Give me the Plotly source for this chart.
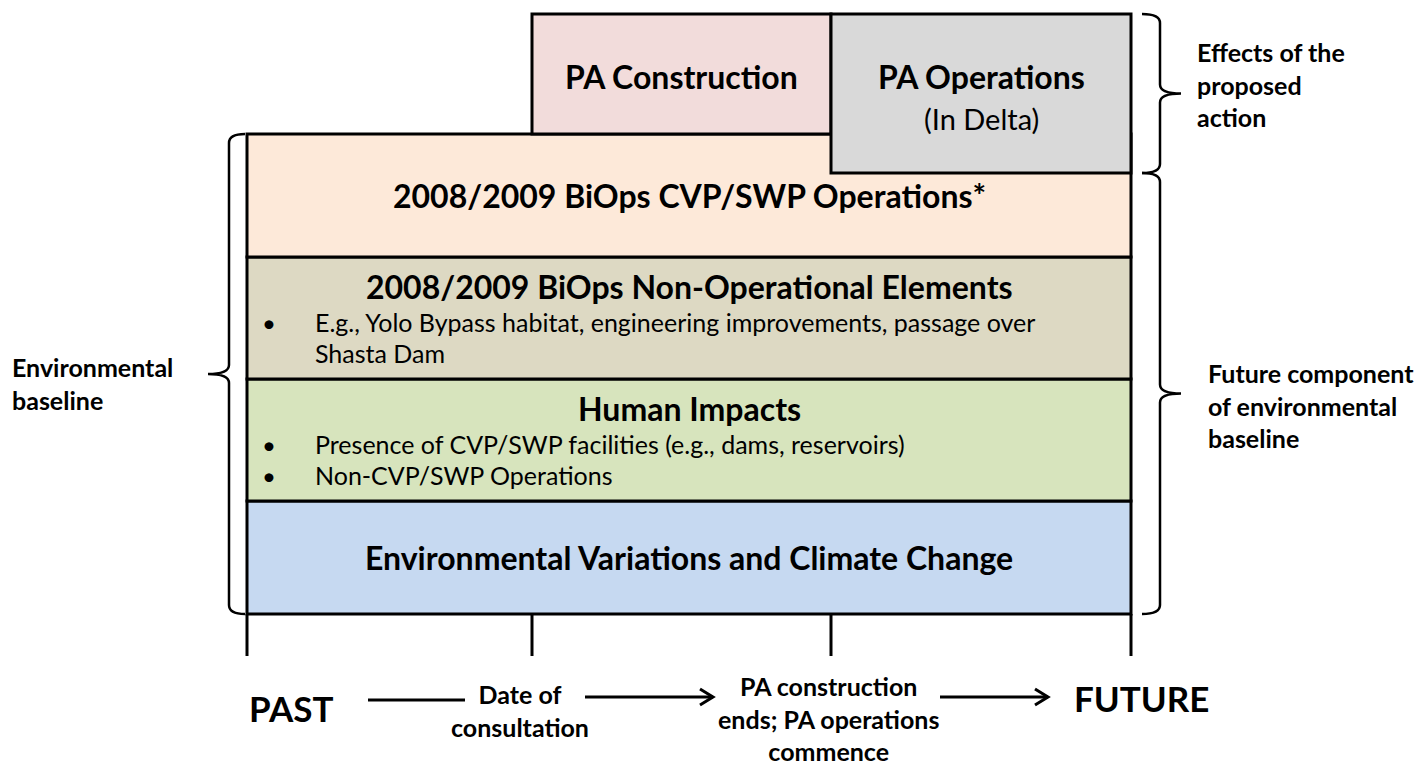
import plotly.graph_objects as go

# ---------------- data ----------------
# timeline stages (x positions in timeline units)
stage_labels = ["PAST", "Date of<br>consultation",
                "PA construction<br>ends; PA operations<br>commence", "FUTURE"]
stage_x = [0, 285, 584, 884]

# baseline layers (bottom -> top), spanning PAST -> FUTURE
layer_titles = ["Environmental Variations and Climate Change",
                "Human Impacts",
                "2008/2009 BiOps Non-Operational Elements",
                "2008/2009 BiOps CVP/SWP Operations*"]
layer_bottom = [0, 113, 235, 357]
layer_top = [113, 235, 357, 480]
layer_colors = ["#C6D9F1", "#D7E4BD", "#DDD9C3", "#FDE9D9"]
layer_bullets = [[],
                 ["Presence of CVP/SWP facilities (e.g., dams, reservoirs)",
                  "Non-CVP/SWP Operations"],
                 ["E.g., Yolo Bypass habitat, engineering improvements, passage over",
                  "Shasta Dam"],
                 []]

# proposed-action boxes
pa_titles = ["PA Construction", "PA Operations"]
pa_sub = ["", "(In Delta)"]
pa_stage_from = [1, 2]
pa_stage_to = [2, 3]
pa_bottom = [480, 441]
pa_top = [600, 600]
pa_colors = ["#F2DCDB", "#D9D9D9"]

brace_labels = ["Environmental<br>baseline",
                "Effects of the<br>proposed<br>action",
                "Future component<br>of environmental<br>baseline"]

FONT = "Lato"
fig = go.Figure()
shapes = []
ann = []

def rect(x0, x1, y0, y1, color):
    shapes.append(dict(type="rect", xref="x", yref="y", x0=x0, x1=x1, y0=y0, y1=y1,
                       fillcolor=color, line=dict(color="black", width=3), layer="above"))

# layers
for i, t in enumerate(layer_titles):
    rect(stage_x[0], stage_x[-1], layer_bottom[i], layer_top[i], layer_colors[i])
    xc = (stage_x[0] + stage_x[-1]) / 2
    if layer_bullets[i]:
        ty = layer_top[i] - 29
    else:
        ty = (layer_bottom[i] + layer_top[i]) / 2
    ann.append(dict(x=xc, y=ty, text="<b>%s</b>" % t, showarrow=False,
                    font=dict(family=FONT, size=32, color="black"),
                    xanchor="center", yanchor="middle"))
    for j, b in enumerate(layer_bullets[i]):
        by = layer_top[i] - 65 - j * 31
        if not (i == 2 and j == 1):
            ann.append(dict(x=stage_x[0] + 22, y=by, text="•", showarrow=False,
                            font=dict(family=FONT, size=24, color="black"),
                            xanchor="center", yanchor="middle"))
        ann.append(dict(x=stage_x[0] + 66, y=by, text=b, showarrow=False,
                        font=dict(family=FONT, size=25, color="black"),
                        xanchor="left", yanchor="middle"))

# PA boxes
for i, t in enumerate(pa_titles):
    x0, x1 = stage_x[pa_stage_from[i]], stage_x[pa_stage_to[i]]
    rect(x0, x1, pa_bottom[i], pa_top[i], pa_colors[i])
    xc = (x0 + x1) / 2
    ann.append(dict(x=xc, y=538, text="<b>%s</b>" % t, showarrow=False,
                    font=dict(family=FONT, size=32, color="black"),
                    xanchor="center", yanchor="middle"))
    if pa_sub[i]:
        ann.append(dict(x=xc, y=496, text=pa_sub[i], showarrow=False,
                        font=dict(family=FONT, size=29, color="black"),
                        xanchor="center", yanchor="middle"))

# ticks
for sx in stage_x:
    shapes.append(dict(type="line", xref="x", yref="y", x0=sx, x1=sx, y0=0, y1=-42,
                       line=dict(color="black", width=3)))

# braces
def brace(ye_top, ye_bot, x_end, x_vert, x_tip, r=9):
    ym = (ye_top + ye_bot) / 2
    s = 1 if ye_top > ye_bot else -1
    p = (f"M {x_end},{ye_top} Q {x_vert},{ye_top} {x_vert},{ye_top - s*r} "
         f"L {x_vert},{ym + s*r} Q {x_vert},{ym} {x_tip},{ym} "
         f"Q {x_vert},{ym} {x_vert},{ym - s*r} "
         f"L {x_vert},{ye_bot + s*r} Q {x_vert},{ye_bot} {x_end},{ye_bot}")
    shapes.append(dict(type="path", xref="x", yref="y", path=p,
                       line=dict(color="black", width=2.5)))

brace(layer_top[-1], layer_bottom[0], stage_x[0] - 2, stage_x[0] - 18, stage_x[0] - 39)
brace(pa_top[1], pa_bottom[1], stage_x[-1] + 11, stage_x[-1] + 29, stage_x[-1] + 50)
brace(pa_bottom[1], layer_bottom[0], stage_x[-1] + 11, stage_x[-1] + 29, stage_x[-1] + 50)

lab_font = dict(family=FONT, size=25, color="black")
ann.append(dict(x=stage_x[0] - 237, y=(layer_top[-1] + layer_bottom[0]) / 2 - 9,
                text="<b>%s</b>" % brace_labels[0], showarrow=False, font=lab_font,
                xanchor="left", yanchor="middle", align="left"))
ann.append(dict(x=stage_x[-1] + 64, y=(pa_top[1] + pa_bottom[1]) / 2 + 9,
                text="<b>%s</b>" % brace_labels[1], showarrow=False, font=lab_font,
                xanchor="left", yanchor="middle", align="left"))
ann.append(dict(x=stage_x[-1] + 75, y=(pa_bottom[1] + layer_bottom[0]) / 2 - 12,
                text="<b>%s</b>" % brace_labels[2], showarrow=False, font=lab_font,
                xanchor="left", yanchor="middle", align="left"))

# timeline labels
ann.append(dict(x=stage_x[0], y=-94, text="<b>%s</b>" % stage_labels[0], showarrow=False,
                font=dict(family=FONT, size=35, color="black"), xanchor="left", yanchor="middle"))
ann.append(dict(x=stage_x[1] - 12, y=-96, text="<b>%s</b>" % stage_labels[1], showarrow=False,
                font=dict(family=FONT, size=25, color="black"), xanchor="center", yanchor="middle"))
ann.append(dict(x=stage_x[2] - 3, y=-104, text="<b>%s</b>" % stage_labels[2], showarrow=False,
                font=dict(family=FONT, size=25, color="black"), xanchor="center", yanchor="middle"))
ann.append(dict(x=stage_x[3] + 10, y=-84, text="<b>%s</b>" % stage_labels[3], showarrow=False,
                font=dict(family=FONT, size=35, color="black"), xanchor="center", yanchor="middle"))

# arrows between stage labels
arrow_start = [121, 338, 693]
arrow_end = [218, 466, 801]
arrow_y = [-86, -83, -83]
arrow_head = [False, True, True]
for xs, xe, ay, h in zip(arrow_start, arrow_end, arrow_y, arrow_head):
    shapes.append(dict(type="line", xref="x", yref="y", x0=xs, x1=xe, y0=ay, y1=ay,
                       line=dict(color="black", width=3)))
    if h:
        shapes.append(dict(type="path", xref="x", yref="y",
                           path=f"M {xe-13},{ay+8} L {xe},{ay} L {xe-13},{ay-8}",
                           line=dict(color="black", width=3)))

# page body has an 8px margin: shrink the figure and shift the axis ranges accordingly
fig.update_layout(
    width=1415, height=758, autosize=False,
    margin=dict(l=0, r=0, t=0, b=0),
    paper_bgcolor="white", plot_bgcolor="white",
    xaxis=dict(range=[-239, 1176], visible=False, fixedrange=True),
    yaxis=dict(range=[-152, 606], visible=False, fixedrange=True),
    shapes=shapes, annotations=ann, showlegend=False,
)
fig.write_html("out.html")
